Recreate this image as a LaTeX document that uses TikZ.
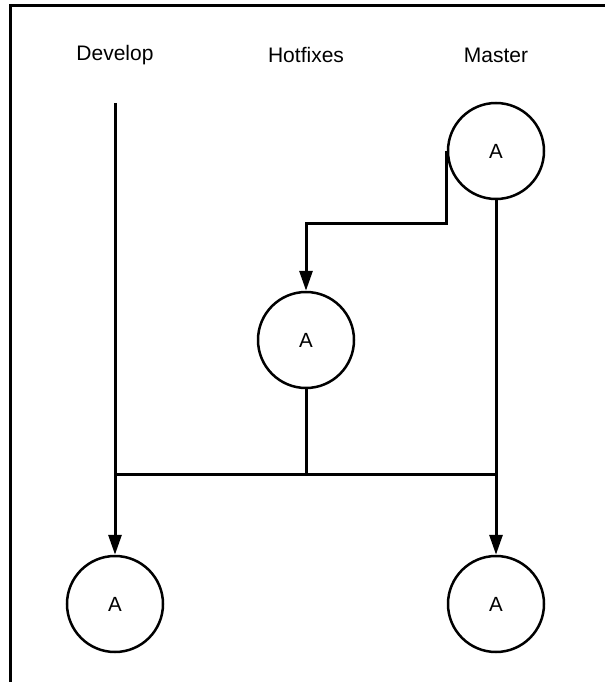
\documentclass[tikz,border=0pt]{standalone}
\usepackage{fontspec}
\setmainfont{Liberation Sans}
\usepackage{tikz}
\usetikzlibrary{arrows.meta}
\usetikzlibrary{positioning}
\tikzset{flow/.style = {line width = 3pt, -{Triangle[length = 20pt, width = 13pt]}}}
\tikzset{link/.style = {line width = 3pt}}
\tikzset{commit/.style = {draw, circle, line width = 2.5pt, minimum size = 96pt, inner sep = 0}}
\tikzset{branch/.style = {font = \fontsize{21}{25}\selectfont}}

\begin{document}
\begin{tikzpicture}[x = 1pt, y = -1pt, font = \fontsize{20.5}{24}\selectfont]
    \useasboundingbox (0, 0) rectangle (605, 682);
    \draw [link] (10, 682) -- (10, 6) -- (605, 6);
    \node [branch] (develop) at (115, 55) {Develop};
    \node [branch] (hotfixes) at (306, 55) {Hotfixes};
    \node [branch] (master) at (496, 55) {Master};
    \node [commit] (masterA) at (496, 151) {A};
    \node [commit] (hotfixA) at (306, 340) {A};
    \node [commit] (developA) at (115, 604) {A};
    \node [commit] (mergedA) at (496, 604) {A};
    \coordinate (devtop) at (115, 103);
    \coordinate (joinD) at (115, 474);
    \coordinate (joinH) at (306, 474);
    \coordinate (joinM) at (496, 474);
    \draw [flow] (devtop) -- (developA);
    \draw [flow] (masterA) -- (mergedA);
    \draw [flow] (masterA.west) -- ++(0, 72) -| (hotfixA);
    \draw [link] (hotfixA) -- (joinH);
    \draw [link] (joinD) -- (joinM);
  \end{tikzpicture}
\end{document}
